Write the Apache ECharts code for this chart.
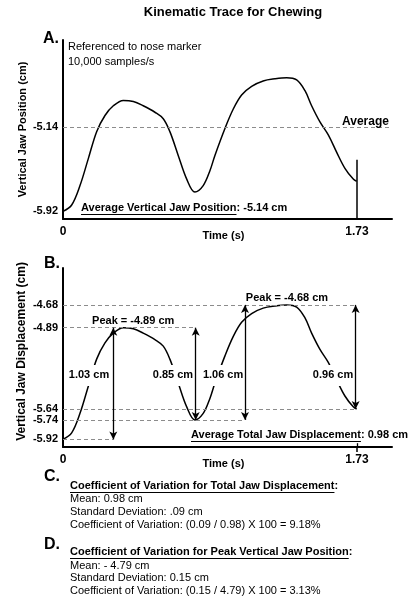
<!DOCTYPE html>
<html><head><meta charset="utf-8">
<script src="https://cdn.jsdelivr.net/npm/echarts@6/dist/echarts.min.js"></script>
<style>html,body{margin:0;padding:0;background:#fff}#c{width:414px;height:600px}</style>
</head><body><div id="c"></div>
<script>
// ---- data ----
const times = [0.00,0.051,0.100,0.149,0.198,0.247,0.296,0.355,0.414,0.472,0.541,0.590,0.629,0.678,0.728,0.776,0.825,0.865,0.894,0.953,1.002,1.051,1.110,1.178,1.247,1.316,1.375,1.424,1.463,1.512,1.561,1.610,1.659,1.708,1.728];
const position = [-5.92,-5.86,-5.68,-5.43,-5.18,-5.03,-4.94,-4.89,-4.90,-4.94,-5.00,-5.06,-5.18,-5.40,-5.62,-5.74,-5.68,-5.54,-5.40,-5.15,-4.97,-4.84,-4.76,-4.71,-4.69,-4.68,-4.70,-4.80,-4.94,-5.09,-5.21,-5.37,-5.52,-5.62,-5.64];
const xTicks = [0, 1.73];
const yTicksA = [-5.14, -5.92];
const yTicksB = [-4.68, -4.89, -5.64, -5.74, -5.92];
const averagePosition = -5.14;
const endMarkerTop = -5.44;
// panel B measurements
const arrowX = [0.296, 0.781, 1.071, 1.722];
const arrowTop = [-4.89, -4.89, -4.68, -4.68];
const arrowBottom = [-5.92, -5.74, -5.74, -5.64];
const dispLabels = ['1.03 cm', '0.85 cm', '1.06 cm', '0.96 cm'];
const dispLabelX = [0.153, 0.647, 0.942, 1.589];
const dispLabelY = -5.33;
const refLevels = [-4.68, -4.89, -5.64, -5.74, -5.92];
const refEnds = [1.722, 0.781, 1.722, 1.071, 0.296];
const peakLabels = ['Peak = -4.89 cm', 'Peak = -4.68 cm'];
const peakX = [0.413, 1.318];
const peakY = [-4.89, -4.68];

const FF = "'Liberation Sans', Arial, sans-serif";
const chart = echarts.init(document.getElementById('c'), null, {renderer: 'canvas'});
const pts = times.map((t, i) => [t, position[i]]);

const mctx = document.createElement('canvas').getContext('2d');
function tw(s, font) { mctx.font = font; return mctx.measureText(s).width; }

const graphics = [];
function txt(x, y, s, font, align) {
  graphics.push({type: 'text', x: x, y: y, z: 20,
    style: {text: s, font: font, fill: '#000', align: align || 'left', verticalAlign: 'middle'}});
}
function underlined(x, y, ul, rest, font) {
  txt(x, y, ul, font);
  const w = tw(ul, font);
  graphics.push({type: 'line', z: 20, shape: {x1: x, y1: y + 6.5, x2: x + w, y2: y + 6.5},
    style: {stroke: '#000', lineWidth: 1.2}});
  if (rest) txt(x + w, y, rest, font);
}
const B11 = 'bold 11px ' + FF, N11 = '11px ' + FF, B16 = 'bold 16px ' + FF;
txt(233, 12, 'Kinematic Trace for Chewing', 'bold 13px ' + FF, 'center');
txt(43, 39, 'A.', B16);
txt(68, 47, 'Referenced to nose marker', N11);
txt(68, 62, '10,000 samples/s', N11);
underlined(81, 208, 'Average Vertical Jaw Position', ': -5.14 cm', B11);
txt(44, 264, 'B.', B16);
underlined(191, 435, 'Average Total Jaw Displacement', ': 0.98 cm', B11);
txt(44, 477, 'C.', B16);
underlined(70, 486, 'Coefficient of Variation for Total Jaw Displacement', ':', B11);
txt(70, 499, 'Mean: 0.98 cm', N11);
txt(70, 512, 'Standard Deviation: .09 cm', N11);
txt(70, 525, 'Coefficient of Variation: (0.09 / 0.98) X 100 = 9.18%', N11);
txt(44, 545, 'D.', B16);
underlined(70, 552, 'Coefficient of Variation for Peak Vertical Jaw Position', ':', B11);
txt(70, 566, 'Mean: - 4.79 cm', N11);
txt(70, 578, 'Standard Deviation: 0.15 cm', N11);
txt(70, 591, 'Coefficient of Variation: (0.15 / 4.79) X 100 = 3.13%', N11);

function xAx(idx) {
  return {type: 'value', gridIndex: idx, min: 0, max: 1.936,
    name: 'Time (s)', nameLocation: 'middle', nameGap: 11, nameMoveOverlap: false,
    nameTextStyle: {fontFamily: FF, fontWeight: 'bold', fontSize: 11, color: '#000', padding: [0, 8, 0, 0]},
    axisLine: {show: true, onZero: false, lineStyle: {color: '#000', width: 2}},
    axisTick: {show: idx === 1, customValues: [1.73], length: 5, lineStyle: {color: '#000', width: 1.5}},
    splitLine: {show: false},
    axisLabel: {customValues: xTicks, margin: 7, fontFamily: FF, fontWeight: 'bold', fontSize: 12, color: '#000',
      formatter: v => String(v)}};
}
function yAx(idx, ticks, name, max, fs, pad) {
  return {type: 'value', gridIndex: idx, min: -5.99, max: max,
    name: name, nameLocation: 'middle', nameGap: 35, nameMoveOverlap: false,
    nameTextStyle: {fontFamily: FF, fontWeight: 'bold', fontSize: fs, color: '#000', padding: pad},
    axisLine: {show: true, onZero: false, lineStyle: {color: '#000', width: 2}},
    axisTick: {show: false}, splitLine: {show: false},
    axisLabel: {customValues: ticks, margin: 5, fontFamily: FF, fontWeight: 'bold', fontSize: 11, color: '#000',
      formatter: v => v.toFixed(2)}};
}
const dashStyle = {color: '#8c8c8c', type: [4, 3], width: 1};

const option = {
  animation: false,
  backgroundColor: '#fff',
  grid: [
    {left: 63, top: 40, width: 329, height: 179},
    {left: 63, top: 268, width: 329, height: 179}
  ],
  xAxis: [xAx(0), xAx(1)],
  yAxis: [yAx(0, yTicksA, 'Vertical Jaw Position (cm)', -4.33, 11, 0),
          yAx(1, yTicksB, 'Vertical Jaw Displacement (cm)', -4.34, 12, [0, 0, 0, 12])],
  graphic: graphics,
  series: [
    {type: 'line', xAxisIndex: 0, yAxisIndex: 0, data: pts, smooth: 0.35, showSymbol: false, z: 3,
      lineStyle: {color: '#000', width: 1.5},
      markLine: {silent: true, symbol: 'none', animation: false,
        data: [
          [{coord: [0, averagePosition], lineStyle: dashStyle,
            label: {show: true, position: 'end', formatter: 'Average', distance: 0, offset: [-50, -6],
              fontFamily: FF, fontWeight: 'bold', fontSize: 12, color: '#000'}},
           {coord: [1.936, averagePosition]}],
          [{coord: [xTicks[1], -5.99], lineStyle: {color: '#000', width: 1.5, type: 'solid'}, label: {show: false}},
           {coord: [xTicks[1], endMarkerTop]}]
        ]}},
    {type: 'line', xAxisIndex: 1, yAxisIndex: 1, data: pts, smooth: 0.35, showSymbol: false, z: 3,
      lineStyle: {color: '#000', width: 1.5},
      markLine: {silent: true, symbol: 'none', animation: false, label: {show: false},
        data: refLevels.map((v, i) => [{coord: [0, v], lineStyle: dashStyle}, {coord: [refEnds[i], v]}])}},
    {type: 'scatter', xAxisIndex: 1, yAxisIndex: 1, data: [], z: 6,
      markPoint: {silent: true, symbol: 'rect', symbolSize: 0, z: 6, animation: false,
        data: dispLabels.map((s, i) => ({coord: [dispLabelX[i], dispLabelY],
          label: {show: true, position: 'inside', formatter: s, backgroundColor: '#fff', padding: [5, 2],
            fontFamily: FF, fontWeight: 'bold', fontSize: 11, color: '#000'}})).concat(
          peakLabels.map((s, i) => ({coord: [peakX[i], peakY[i]],
            label: {show: true, position: 'inside', formatter: s, offset: [0, -7],
              fontFamily: FF, fontWeight: 'bold', fontSize: 11, color: '#000'}})))}},
    {type: 'scatter', xAxisIndex: 1, yAxisIndex: 1, data: [], z: 8,
      markLine: {silent: true, symbol: ['arrow', 'arrow'], symbolSize: [6, 8], z: 8, animation: false,
        label: {show: false},
        lineStyle: {color: '#000', width: 1.3, type: 'solid'},
        data: arrowX.map((x, i) => [{coord: [x, arrowTop[i]]}, {coord: [x, arrowBottom[i]]}]).concat([
          [{coord: [xTicks[1], -5.99], symbol: 'none'}, {coord: [xTicks[1], -5.955], symbol: 'none'}]
        ])}}
  ]
};
chart.setOption(option);
</script></body></html>
